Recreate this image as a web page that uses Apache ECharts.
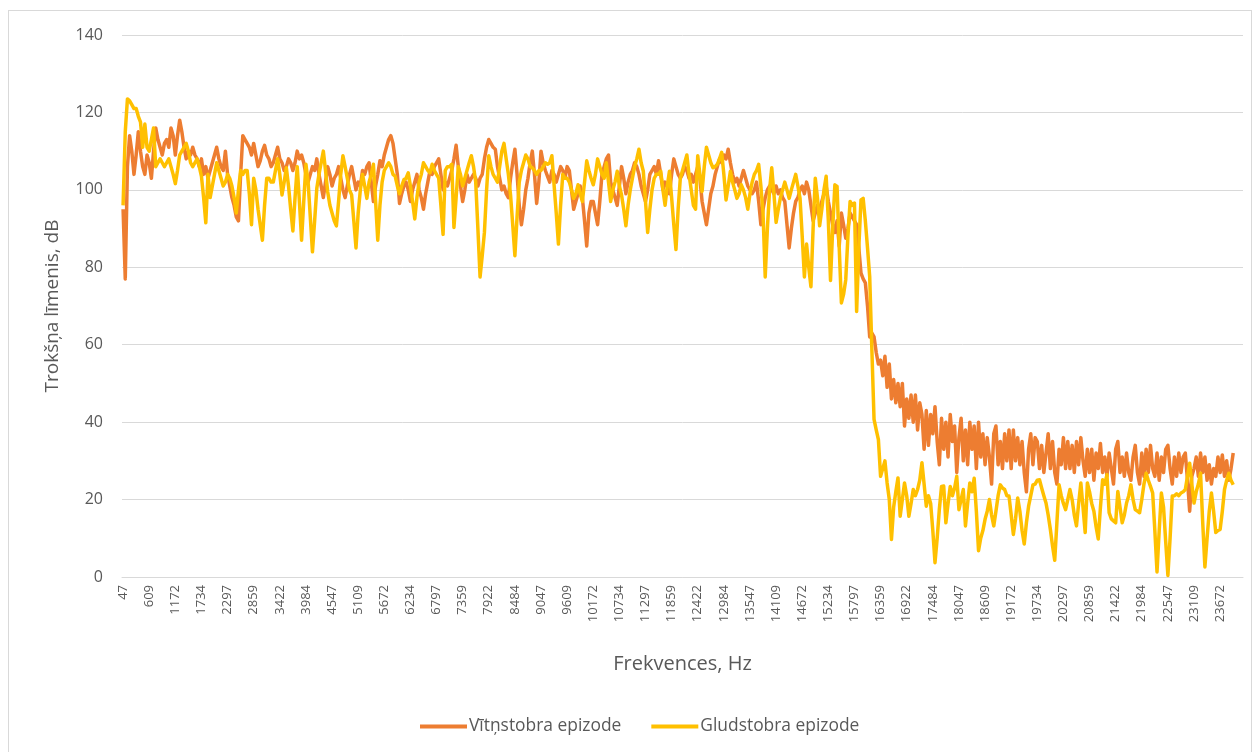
<!DOCTYPE html>
<html>
<head>
<meta charset="utf-8">
<script src="https://cdn.jsdelivr.net/npm/echarts@6/dist/echarts.min.js"></script>
<style>
  html, body { margin: 0; padding: 0; background: #fff; overflow: hidden; }
  #chart { position: absolute; left: 0; top: 0; width: 1258px; height: 752px; }
  #frame { position: absolute; left: 8px; top: 10px; width: 1242px; height: 760px; border: 1px solid #d9d9d9; pointer-events: none; }
</style>
</head>
<body>
<div id="chart"></div>
<div id="frame"></div>
<script>
// FFT bins: 48 kHz / 1024
var binHz = 46.875;
var binCount = 515;
var frequencies = [];
for (var k = 1; k <= binCount; k++) frequencies.push(String(Math.round(k * binHz)));

var seriesNames = ['Vītņstobra epizode', 'Gludstobra epizode'];

var vitnstobra = [
  95, 77, 106, 114, 110, 104, 109, 115, 110, 106, 104, 109,
  107, 103, 110, 116, 113, 111, 109, 112, 113, 111, 116, 114,
  109, 114, 118, 115, 111, 108, 110, 109, 111, 109, 108, 106,
  108, 104, 106, 103, 105, 107, 109, 111, 108, 106, 105, 110,
  104, 101, 98, 96, 93, 92, 104, 114, 113, 112, 111, 109,
  112, 109, 106, 107.5, 110, 111.5, 109, 108, 106, 107, 109, 111,
  108, 107, 105, 106, 108, 107, 105, 107, 110, 108, 109, 107,
  104, 102, 104, 106, 105, 108, 104, 101, 98, 102, 106, 104,
  101, 103, 104, 106, 103, 100, 98, 101, 104, 106, 103, 100,
  102, 101, 105, 104, 106, 107, 102, 97, 101, 104, 107.5, 106,
  109, 111, 113, 114, 112, 108, 104, 96.5, 99, 101, 102, 100,
  97, 100, 102, 104, 100, 98, 95, 99, 102, 105, 104, 106,
  107, 108, 104, 100, 102, 101, 103, 105, 108, 111.5, 106, 101,
  97, 100, 104, 102, 103, 104, 103, 101, 103, 104, 108, 111,
  113, 112, 111, 110.5, 106, 103, 100, 101, 99, 98, 103, 107,
  110.5, 104, 96, 91, 95, 100, 103, 107, 110, 104, 96.5, 102,
  110, 107, 105, 103.5, 102, 105, 104, 102, 104, 106, 105, 103,
  106, 105, 100, 95, 97, 99, 101, 98, 92, 85.5, 94, 97,
  97, 94, 91, 97, 104, 106, 108, 109, 102, 100, 98, 96,
  101, 106, 103, 99, 102, 104, 105, 107, 106, 104, 101, 99,
  97, 100, 104, 105, 106, 104, 107.5, 104, 100, 102, 101, 99,
  104, 108, 106, 104, 103, 104, 106, 105, 103, 104, 102, 104,
  106, 103, 97, 94, 91, 95, 99, 101, 104, 106, 108, 107,
  109, 108, 110.5, 107, 104, 102, 103, 101, 103, 105, 103, 101,
  100, 99, 100, 102, 97, 91, 95, 98, 100, 101, 100, 99,
  101, 99, 100, 98, 97, 91, 85, 90, 94, 97, 98, 100,
  101, 99, 102, 100, 96, 92, 94, 96, 95, 97, 99, 101,
  97, 94, 91, 89, 92, 85.5, 94, 91, 87.5, 90, 94, 93,
  92, 91, 85, 78.5, 77, 76, 70, 62, 63, 62, 58, 55,
  56, 52, 57, 49, 55, 46, 51, 45, 50, 44, 50, 39,
  46, 41, 47, 40, 47, 38, 45, 42, 33, 43, 34, 42,
  37, 44, 35, 29, 41, 33, 40, 31, 42, 35, 39, 27,
  36, 41, 30, 38, 29, 40, 33, 39, 28, 40, 31, 37,
  29, 36, 31, 24, 37, 39, 29, 35, 28, 37, 30, 38,
  28, 38, 30, 36, 29, 35, 27, 22, 33, 37, 29, 36,
  35, 28, 34, 27, 32, 37, 28, 35, 27, 24, 33, 29,
  36, 28, 35, 28, 34, 27, 35, 29, 36, 30, 26, 33,
  27, 33, 25, 32, 28, 34.5, 27, 31, 26, 32, 28, 24,
  33, 35, 27, 31, 26, 32, 27, 25, 31, 34, 27, 24,
  32, 26, 33, 27, 34, 28, 26, 32, 25, 31, 27, 33,
  34, 28, 24, 31, 26, 32, 27, 31, 32, 25, 17, 26,
  28, 31, 26, 32, 27, 31, 25, 29, 24, 28, 26, 31,
  27, 31.5, 26, 30, 25, 28, 32
];

var gludstobra = [
  96, 115, 123.5, 123, 122, 121, 121, 119, 117.5, 111, 117, 111,
  110, 113, 116, 106, 107, 108, 107, 106, 107, 108, 106, 104,
  101.6, 105, 109, 110, 111, 112, 110, 107, 106, 107, 108, 106,
  103.5, 98, 91.5, 104, 98, 101, 104, 107, 105, 103, 101, 102,
  104, 103, 101, 98, 94, 100, 105, 104, 105, 105, 99, 91,
  103, 100, 95, 91, 87, 96, 103, 103, 102, 102, 105, 108,
  104, 98.7, 102, 105.7, 101, 95, 89.4, 98, 106, 97, 87, 97,
  106.6, 102, 93, 84, 92, 100.4, 104, 107, 110, 105, 99.5, 96,
  94, 92, 90.7, 97, 104, 108.8, 106, 103, 100, 98.7, 92, 85,
  94, 100, 104, 101, 97.8, 102, 104, 106.6, 97, 87, 96, 102,
  105, 106, 107, 106, 104, 103.5, 101, 99, 101, 102.6, 103, 104.4,
  101, 97, 92.5, 98, 102, 104, 107, 106, 105, 104.4, 106.6, 105,
  104, 103, 96, 88.5, 105, 106, 106, 106.6, 90.3, 98, 106, 104,
  101, 103, 105, 107, 108.8, 106, 102, 90, 77.5, 83, 89, 100,
  108.8, 106, 104, 103, 102, 106, 110, 112, 108, 104, 98.7, 91,
  83, 93, 102, 105, 107, 109, 108, 106, 105.7, 105, 104, 105,
  105, 106, 107, 106.6, 107, 108.8, 101.3, 94, 86, 96, 104, 103,
  103, 102, 100, 97.8, 99, 101.3, 99, 97, 102, 107.5, 105, 103,
  101.3, 104, 108, 106, 104, 103, 107, 102, 97, 100, 102, 104.8,
  101, 98.7, 95, 90.7, 96, 100, 103, 106, 108, 110.5, 107, 104.8,
  97, 89, 95, 100, 103, 104, 104, 104.8, 100, 96, 101, 104.8,
  98, 91, 84.6, 95, 103, 105, 107, 109, 104, 100, 96, 95,
  108.8, 104, 99.6, 106, 111, 109, 107, 105.7, 106, 106.6, 108, 109.7,
  104, 97.4, 101, 104.8, 102, 100, 97.8, 99, 101.3, 100, 98, 95,
  99, 102, 104, 105, 106.6, 101, 94, 77.5, 90, 100, 105.7, 99,
  91.6, 95, 98, 100, 102, 100, 97.8, 100, 102, 104, 101, 97.8,
  88, 77.5, 86, 80, 75, 90, 103, 98, 90.7, 95, 100, 103.5,
  92, 76.6, 90, 101.3, 100.9, 85, 70.8, 73, 76.8, 88, 97, 96,
  96.6, 68.6, 85, 97.4, 97.8, 92, 85, 77.6, 58.7, 40.7, 38, 35.5,
  26, 28, 30, 24.3, 20, 9.7, 18, 22, 25.6, 15.7, 20, 24.3,
  21, 15.7, 19, 22.6, 21, 22.6, 25, 29.5, 24, 18.3, 21, 19,
  12, 3.7, 10, 17.5, 23.4, 23.5, 14, 19, 23.4, 21, 23, 26,
  17.4, 20, 22.6, 13.2, 19, 24.3, 22, 25.5, 17, 6.8, 10, 12,
  14.9, 17, 20, 16, 13.2, 17, 21, 23.8, 23, 22.6, 21, 20.9,
  16, 11, 15, 20.4, 17, 12, 8.5, 14, 18.3, 21, 23.8, 24,
  25, 25.1, 23, 21, 19.1, 16, 12.3, 8, 4.3, 14, 23.8, 21,
  19, 17.4, 20, 22.6, 20, 16, 13.2, 19, 24.3, 18, 11.5, 24.3,
  22, 19, 17, 13, 9.8, 18, 25.1, 24, 26.4, 16.6, 15, 14.5,
  14, 22.1, 18, 14, 16, 19.1, 21, 23.8, 20, 17.4, 17, 16.6,
  20, 24, 26.8, 25, 23.4, 21.7, 12, 1.3, 12, 21.7, 18, 9,
  0.4, 10, 20.9, 21, 21.5, 21, 21.7, 22, 22.6, 26, 29.4, 24,
  19.1, 22, 24, 26.8, 14, 2.6, 10, 17, 21.7, 17, 11.5, 12,
  12.3, 17, 22.6, 25, 26.8, 25, 23.8
];

var textColor = '#595959';
var gridColor = '#d9d9d9';
var font = 'Open Sans, Liberation Sans, sans-serif';

var chart = echarts.init(document.getElementById('chart'), null, { renderer: 'canvas' });
chart.setOption({
  animation: false,
  color: ['#ED7D31', '#FFC000'],
  textStyle: { fontFamily: font },
  grid: { left: 122, right: 15, top: 35, bottom: 175 },
  legend: {
    top: 713,
    left: 415,
    icon: 'rect',
    itemWidth: 47,
    itemHeight: 4,
    itemGap: 30,
    textStyle: { color: textColor, fontSize: 17.4, fontFamily: font, padding: [0, 0, 0, -3] },
    data: seriesNames
  },
  xAxis: {
    type: 'category',
    data: frequencies,
    boundaryGap: true,
    name: 'Frekvences, Hz',
    nameLocation: 'middle',
    nameGap: 77,
    nameTextStyle: { color: textColor, fontSize: 20 },
    axisLine: { lineStyle: { color: gridColor, width: 1 } },
    axisTick: { show: false },
    axisLabel: { interval: 11, rotate: 90, color: textColor, fontSize: 13, margin: 8 }
  },
  yAxis: {
    type: 'value',
    min: 0,
    max: 140,
    interval: 20,
    name: 'Trokšņa līmenis, dB',
    nameLocation: 'middle',
    nameGap: 60,
    nameTextStyle: { color: textColor, fontSize: 19 },
    axisLine: { show: false },
    axisTick: { show: false },
    axisLabel: { color: textColor, fontSize: 16, margin: 19 },
    splitLine: { lineStyle: { color: gridColor, width: 1 } }
  },
  series: [
    {
      name: seriesNames[0],
      type: 'line',
      data: vitnstobra,
      symbol: 'none',
      lineStyle: { width: 3.5, color: '#ED7D31', join: 'round' }
    },
    {
      name: seriesNames[1],
      type: 'line',
      data: gludstobra,
      symbol: 'none',
      lineStyle: { width: 3.5, color: '#FFC000', join: 'round' }
    }
  ]
});
</script>
</body>
</html>
